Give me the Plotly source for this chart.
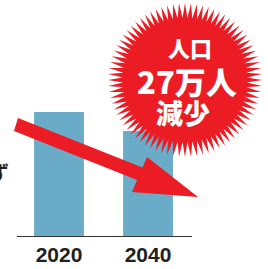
import math
import plotly.graph_objects as go

# Data (万人)
years = ["2020", "2040"]
population = [177, 150]
burst_lines = ["人口", "27万人", "減少"]

W, H = 268, 269
RED = "#EC1C24"
BAR = "#6AABC8"

def px(x):
    return x / W

def py(y):
    return 1 - y / H

def path_from(points):
    return "M " + " L ".join(f"{px(x):.5f},{py(y):.5f}" for x, y in points) + " Z"

fig = go.Figure()
fig.add_trace(go.Bar(x=years, y=population, marker=dict(color=BAR, line=dict(width=0)),
                     width=0.56, hoverinfo="skip"))

# starburst
cx, cy, r_out, r_in, n = 185, 80, 77, 62, 80
pts = []
for i in range(2 * n):
    a = math.pi * i / n
    r = r_out if i % 2 == 0 else r_in
    pts.append((cx + r * math.cos(a), cy + r * math.sin(a)))

# arrow
arrow = [(18, 118), (142.5, 167.6), (147, 157), (198, 197), (132, 192), (137.1, 180.1), (14, 131)]

shapes = [
    dict(type="path", path=path_from(arrow), xref="paper", yref="paper",
         fillcolor=RED, line=dict(width=0), layer="above"),
    dict(type="path", path=path_from(pts), xref="paper", yref="paper",
         fillcolor=RED, line=dict(width=0), layer="above"),
]

def ann(text, x, y, size, color="white", weight=900):
    return dict(text=text, x=px(x), y=py(y), xref="paper", yref="paper", showarrow=False,
                xanchor="center", yanchor="middle",
                font=dict(family="Noto Sans CJK JP", size=size, color=color, weight=weight))

annotations = [
    ann(burst_lines[0], 190, 47, 22),
    ann(burst_lines[1], 187, 81, 31),
    ann(burst_lines[2], 183, 112, 27),
    ann("ず", -1, 172, 20, color="#231F20", weight=700),
]

ymax = 177 * 236 / 124
fig.update_layout(
    width=W, height=H, margin=dict(l=0, r=0, t=0, b=0),
    paper_bgcolor="white", plot_bgcolor="white", showlegend=False,
    shapes=shapes, annotations=annotations,
    xaxis=dict(domain=[px(17), px(192)], range=[-0.472, 1.494], showgrid=False,
               showline=True, linecolor="#333333", linewidth=1.2, ticks="",
               tickfont=dict(family="Liberation Sans", size=21, color="#231F20", weight="bold"),
               automargin=False, fixedrange=True),
    yaxis=dict(domain=[py(236), 1], range=[0, ymax], visible=False, fixedrange=True),
)

fig.write_html("out.html", config=dict(displayModeBar=False),
               post_script="document.body.style.margin='0';document.body.style.overflow='hidden';")
